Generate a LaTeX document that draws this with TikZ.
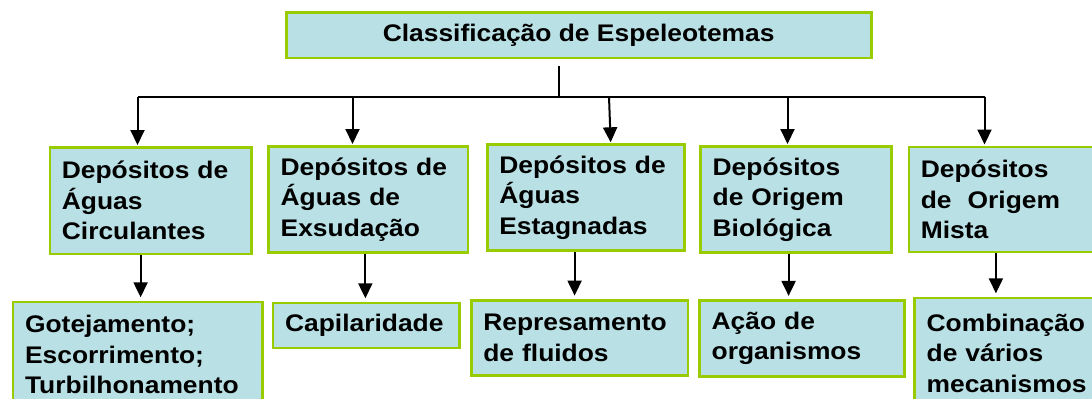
\documentclass[tikz,border=0pt]{standalone}
\usepackage{fontspec}
\setmainfont[FakeStretch=1.1]{Liberation Sans}
\usepackage{tikz}
\usetikzlibrary{positioning,calc,arrows.meta}

\definecolor{boxblue}{RGB}{185,224,228}
\definecolor{boxgreen}{RGB}{153,204,0}

\tikzset{
  box/.style={draw=boxgreen, fill=boxblue, line width=1.35pt, anchor=north west,
    inner xsep=6pt, inner ysep=0pt, align=left,
    font=\bfseries\fontsize{12pt}{15.3pt}\selectfont},
  link/.style={line width=1pt},
  arr/.style={link, -{Triangle[width=7pt,length=7.5pt]}},
}

\begin{document}
\begin{tikzpicture}[x=0.5pt,y=-0.5pt]
    \useasboundingbox (0,0) rectangle (1092,398);

    % Title
    \node[box, align=center, minimum width=292.5pt, minimum height=22.85pt] (classif) at (284.8,11) {Classificação de Espeleotemas};

    % Kinds of deposits
    \node[box, text width=88.75pt, minimum height=53.35pt] (dep1) at (48.5,146) {Depósitos de\\Águas\\Circulantes};
    \node[box, text width=87.7pt, minimum height=53pt] (dep2) at (267.3,145) {Depósitos de\\Águas de\\Exsudação};
    \node[box, text width=86.65pt, minimum height=53pt] (dep3) at (486,143.3) {Depósitos de\\Águas\\Estagnadas};
    \node[box, text width=83.35pt, minimum height=53pt] (dep4) at (699.3,145) {Depósitos\\de Origem\\Biológica};
    \node[box, text width=84.25pt, minimum height=52.5pt] (dep5) at (907.5,145.5) {Depósitos\\de\ \ Origem\\Mista};

    % Processes
    \node[box, text width=112.65pt, minimum height=52.5pt] (proc1) at (11.7,300.7) {Gotejamento;\\Escorrimento;\\Turbilhonamento};
    \node[box, text width=81.3pt, minimum height=22.5pt] (proc2) at (271.7,301.7) {Capilaridade};
    \node[box, text width=96.35pt, minimum height=37.65pt] (proc3) at (470,299) {Represamento\\de fluidos};
    \node[box, text width=90.5pt, minimum height=37.85pt] (proc4) at (698.3,299.3) {Ação de\\organismos};
    \node[box, text width=81.35pt, minimum height=55.3pt] (proc5) at (913.3,296.7) {Combinação\\de vários\\mecanismos};

    % Tree
    \coordinate (stem) at ($(classif.south)+(-20,6.6)$);
    \coordinate (busL) at (137.5,96.7);
    \coordinate (busR) at (984.7,96.7);
    \draw[link] (stem) -- (stem |- busL);
    \draw[link] (busL) -- (busR);

    \foreach \n/\x/\s in {1/137.5/0, 2/352.5/0, 3/609/1.7, 4/787.5/0, 5/984.5/0} {
        \coordinate (bus\n) at (\x,96.7);
        \draw[arr, shorten >=0.5pt] (bus\n) -- ($(bus\n |- dep\n.north)+(\s,0)$);
    }

    \foreach \n/\s in {1/-5pt, 2/-1.5pt, 3/-5.7pt, 4/-3.7pt, 5/-4.6pt} {
        \path ([xshift=\s]dep\n.south) coordinate (down\n);
        \draw[arr, shorten >=1.7pt] (down\n) -- (down\n |- proc\n.north);
    }
\end{tikzpicture}
\end{document}
